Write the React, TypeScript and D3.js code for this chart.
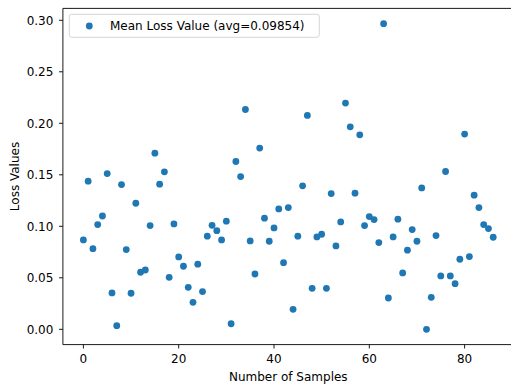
import React from "react";
import * as d3 from "d3";

const lossValues: number[] = [
  0.0868, 0.1438, 0.0783, 0.1017, 0.11, 0.1512, 0.0353, 0.0035, 0.1405, 0.0774,
  0.035, 0.1224, 0.0554, 0.0576, 0.1007, 0.171, 0.1409, 0.1529, 0.0505, 0.1023,
  0.0703, 0.0612, 0.0408, 0.0262, 0.0632, 0.0366, 0.0904, 0.101, 0.0958, 0.0868,
  0.105, 0.0054, 0.1629, 0.1483, 0.2134, 0.0858, 0.0537, 0.1759, 0.1079, 0.0855,
  0.0984, 0.1169, 0.0647, 0.1182, 0.0194, 0.0904, 0.1393, 0.2076, 0.0398, 0.0897,
  0.0923, 0.0398, 0.1318, 0.081, 0.1043, 0.2196, 0.1966, 0.1322, 0.1888, 0.1007,
  0.1094, 0.1065, 0.0842, 0.2967, 0.0304, 0.0897, 0.1069, 0.0547, 0.0768, 0.0968,
  0.0855, 0.1373, 0.0, 0.0311, 0.091, 0.0518, 0.1532, 0.0518, 0.0443, 0.068,
  0.1895, 0.0706, 0.1302, 0.1182, 0.1017, 0.0978, 0.0894,
];
const sampleIndex: number[] = lossValues.map((_, i) => i);
const xTicks: number[] = [0, 20, 40, 60, 80];
const yTicks: number[] = [0, 0.05, 0.1, 0.15, 0.2, 0.25, 0.3];
const legendLabel = "Mean Loss Value (avg=0.09854)";
const xLabel = "Number of Samples";
const yLabel = "Loss Values";

export default function App() {
  const W = 511, H = 385;
  const left = 62.9, right = 513.7, top = 8.4, bottom = 344.6;
  const xMin = d3.min(sampleIndex)!, xMax = d3.max(sampleIndex)!;
  const yMin = d3.min(lossValues)!, yMax = d3.max(lossValues)!;
  const xPad = (xMax - xMin) * 0.05, yPad = (yMax - yMin) * 0.05;
  const x = d3.scaleLinear().domain([xMin - xPad, xMax + xPad]).range([left, right]);
  const y = d3.scaleLinear().domain([yMin - yPad, yMax + yPad]).range([bottom, top]);
  const font = "DejaVu Sans, sans-serif";
  const color = "#1f77b4";
  return (
    <svg width={W} height={H} style={{ position: "absolute", left: 0, top: 0, background: "#fff" }}>
      <rect x={0} y={0} width={W} height={H} fill="#fff" />
      {sampleIndex.map((i) => (
        <circle key={i} cx={x(i)} cy={y(lossValues[i])} r={3.4} fill={color} />
      ))}
      {/* spines */}
      <line x1={left} x2={left} y1={top} y2={bottom} stroke="#000" strokeWidth={0.9} />
      <line x1={left} x2={right} y1={bottom} y2={bottom} stroke="#000" strokeWidth={0.9} />
      <line x1={left} x2={right} y1={top} y2={top} stroke="#000" strokeWidth={0.9} />
      {/* x ticks */}
      {xTicks.map((t) => (
        <g key={t}>
          <line x1={x(t)} x2={x(t)} y1={bottom} y2={bottom + 3.9} stroke="#000" strokeWidth={0.9} />
          <text x={x(t)} y={bottom + 18.5} textAnchor="middle" fontSize={12} fontFamily={font} fill="#000">
            {t}
          </text>
        </g>
      ))}
      {/* y ticks */}
      {yTicks.map((t) => (
        <g key={t}>
          <line x1={left - 3.9} x2={left} y1={y(t)} y2={y(t)} stroke="#000" strokeWidth={0.9} />
          <text x={left - 9.5} y={y(t) + 4.3} textAnchor="end" fontSize={12} fontFamily={font} fill="#000">
            {t.toFixed(2)}
          </text>
        </g>
      ))}
      <text x={(left + right) / 2} y={380.5} textAnchor="middle" fontSize={12} fontFamily={font} fill="#000">
        {xLabel}
      </text>
      <text
        transform={`translate(18.5, ${(top + bottom) / 2}) rotate(-90)`}
        textAnchor="middle"
        fontSize={12}
        fontFamily={font}
        fill="#000"
      >
        {yLabel}
      </text>
      {/* legend */}
      <rect x={69.3} y={14.3} width={250} height={23} rx={2.5} fill="#fff" fillOpacity={0.8} stroke="#ccc" strokeWidth={0.8} />
      <circle cx={89.3} cy={26} r={3.4} fill={color} />
      <text x={110} y={30.3} fontSize={12} fontFamily={font} fill="#000">
        {legendLabel}
      </text>
    </svg>
  );
}
